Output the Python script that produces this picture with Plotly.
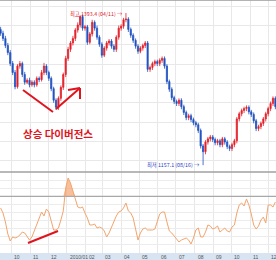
import numpy as np
import pandas as pd
import plotly.graph_objects as go

dates = pd.date_range("2009-09-13", periods=115, freq="4D")

open_ = [1368,1362,1354,1343,1332,1315,1301,1279,1311,1315,1298,1286,1289,1282,1286,1282,1292,1290,1301,1311,
         1301,1292,1276,1258,1247,1261,1278,1298,1323,1337,1347,1354,1367,1375,1388,1370,1372,1348,1361,1379,
         1370,1356,1345,1328,1339,1347,1350,1342,1337,1356,1370,1373,1383,1384,1368,1359,1351,1342,1334,1339,
         1343,1347,1306,1309,1315,1318,1315,1320,1323,1311,1287,1275,1262,1256,1253,1258,1248,1239,1231,1234,
         1228,1223,1220,1211,1187,1178,1193,1198,1201,1197,1192,1195,1189,1198,1193,1186,1183,1189,1195,1229,
         1237,1242,1245,1247,1240,1236,1226,1214,1217,1222,1229,1237,1245,1253,1261]
close = [1362,1354,1343,1332,1315,1301,1279,1311,1315,1298,1286,1289,1282,1286,1282,1292,1290,1301,1311,1301,
         1292,1276,1258,1247,1261,1278,1298,1323,1337,1347,1354,1367,1375,1388,1370,1372,1348,1361,1379,1370,
         1356,1345,1328,1339,1347,1350,1342,1337,1356,1370,1373,1383,1384,1368,1359,1351,1342,1334,1339,1343,
         1347,1306,1309,1315,1318,1315,1320,1323,1311,1287,1275,1262,1256,1253,1258,1248,1239,1231,1234,1228,
         1223,1220,1211,1187,1178,1193,1198,1201,1197,1192,1195,1189,1198,1193,1186,1183,1189,1195,1229,1237,
         1242,1245,1247,1240,1236,1226,1214,1217,1222,1229,1237,1245,1253,1261,1248]
high = [1372,1366,1358,1347,1336,1319,1305,1314,1319,1318,1302,1292,1293,1289,1289,1295,1295,1305,1316,1314,
        1304,1295,1279,1261,1264,1281,1301,1327,1341,1350,1358,1370,1379,1390,1391,1375,1375,1364,1383,1382,
        1374,1359,1348,1342,1350,1353,1353,1345,1359,1374,1376,1386,1393.4,1387,1371,1362,1354,1345,1342,1346,
        1350,1350,1312,1318,1321,1321,1323,1326,1326,1314,1290,1278,1265,1259,1261,1261,1251,1242,1237,1237,
        1231,1226,1223,1214,1190,1196,1201,1204,1204,1200,1198,1198,1201,1201,1196,1189,1192,1198,1232,1240,
        1245,1248,1250,1250,1243,1239,1229,1220,1225,1232,1240,1248,1256,1264,1264]
low = [1358,1350,1339,1328,1311,1297,1275,1276,1307,1294,1282,1283,1278,1279,1278,1279,1286,1287,1297,1297,
       1288,1272,1254,1243,1243,1257,1274,1294,1319,1333,1343,1350,1363,1371,1366,1366,1344,1345,1357,1366,
       1352,1341,1324,1325,1335,1343,1338,1333,1333,1352,1366,1369,1379,1364,1355,1347,1338,1330,1331,1335,
       1339,1302,1302,1305,1311,1311,1311,1316,1307,1283,1271,1258,1252,1249,1249,1244,1235,1227,1227,1224,
       1219,1216,1207,1183,1157.1,1174,1189,1194,1193,1188,1188,1185,1185,1189,1182,1179,1179,1185,1191,1225,
       1233,1238,1241,1236,1232,1222,1210,1210,1213,1218,1225,1233,1241,1249,1244]

rsi = [55.6,49.4,38.3,23.5,14.8,19.8,18.5,19.8,22.2,25.9,24.7,21,16,19.8,27.2,34.6,43.2,50.6,45.7,54.3,
       50.6,38.3,28.4,28.4,30.9,40.7,51.9,80.2,92.6,86.4,76.5,66.7,56.8,55.6,56.8,49.4,43.2,34.6,34.6,35.8,
       30.9,32.1,30.9,27.2,19.8,24.7,32.1,40.7,45.7,50.6,51.9,55.6,61.7,51.9,49.4,43.2,29.6,16,24.7,29.6,
       30.9,28.4,28.4,28.4,29.6,38.3,48.1,50.6,50.6,38.3,27.2,24.7,21,17.3,13.6,16,17.3,18.5,16,11.1,
       18.5,28.4,30.9,19.8,19.8,25.9,34.6,33.3,29.6,30.9,33.3,25.9,28.4,30.9,27.2,25.9,32.1,34.6,49.4,59.3,
       61.7,58,66.7,59.3,48.1,34.6,29.6,33.3,40.7,44.4,37,59.3,59.3,56.8,63]

month_starts = pd.date_range("2009-10-01", "2010-12-01", freq="MS")
month_labels = ["10","11","12","2010/01","02","03","04","05","06","07","08","09","10","11","12"]

W, H, B = 276, 260, 7
PH = H - B
def px(x): return x / W
def py(y): return 1 - y / PH

split = 81 / PH
RED = "#e0141e"

fig = go.Figure()
fig.add_trace(go.Candlestick(
    x=dates, open=open_, high=high, low=low, close=close,
    increasing=dict(line=dict(color="#e3202a", width=0.8), fillcolor="#e3202a"),
    decreasing=dict(line=dict(color="#1f50c0", width=0.8), fillcolor="#1f50c0"),
    whiskerwidth=0, xaxis="x", yaxis="y", showlegend=False, hoverinfo="skip"))

fig.add_trace(go.Scatter(x=dates, y=[70]*len(dates), mode="lines",
                         line=dict(width=0, color="rgba(0,0,0,0)"), xaxis="x", yaxis="y2",
                         showlegend=False, hoverinfo="skip"))
fig.add_trace(go.Scatter(x=dates, y=np.maximum(np.array(rsi), 70), mode="lines",
                         line=dict(width=0, color="rgba(0,0,0,0)"), fill="tonexty",
                         fillcolor="rgba(245,170,120,0.75)", xaxis="x", yaxis="y2",
                         showlegend=False, hoverinfo="skip"))
fig.add_trace(go.Scatter(x=dates, y=rsi, mode="lines", line=dict(color="#f3a46c", width=1),
                         xaxis="x", yaxis="y2", showlegend=False, hoverinfo="skip"))

def seg(x0, y0, x1, y1, w=2):
    return dict(type="line", xref="paper", yref="paper", x0=px(x0), y0=py(y0), x1=px(x1), y1=py(y1),
                line=dict(color=RED, width=w))

shapes = [
    dict(type="rect", xref="paper", yref="paper", x0=0, x1=1, y0=-B / PH, y1=0,
         fillcolor="#d8e4f2", line=dict(width=0), layer="below"),
    dict(type="line", xref="paper", yref="paper", x0=0, x1=1, y0=1, y1=1,
         line=dict(color="#9a9a9a", width=1.5)),
    dict(type="line", xref="paper", yref="paper", x0=0, x1=1, y0=split, y1=split,
         line=dict(color="#a0a0a0", width=1.5)),
    dict(type="line", xref="paper", yref="y2", x0=0, x1=1, y0=70, y1=70,
         line=dict(color="#a8a8a8", width=1.2)),
    seg(23, 90, 53, 112),
    seg(56, 109, 80, 88),
    seg(80, 88, 80, 99),
    seg(80, 88, 68, 90),
    seg(28, 243, 58, 231),
]

annotations = [
    dict(xref="paper", yref="paper", x=px(57.5), y=py(133), xanchor="center", yanchor="middle",
         text="<b>상승 다이버전스</b>", showarrow=False,
         font=dict(family="Noto Sans CJK KR", size=10.5, color=RED)),
    dict(xref="x", yref="paper", x=dates[52], y=py(8), xanchor="right", xshift=-1,
         text="최고 1393.4 (04/11) →", showarrow=False,
         font=dict(family="Noto Sans CJK KR", size=5.3, color=RED)),
    dict(xref="x", yref="paper", x=dates[84], y=py(165), xanchor="right", xshift=-1,
         text="최저 1157.1 (08/16) →", showarrow=False,
         font=dict(family="Noto Sans CJK KR", size=5.3, color="#1f40c8")),
]
for d, lab in zip(month_starts, month_labels):
    annotations.append(dict(xref="x", yref="paper", x=d, y=-3.5 / PH, xanchor="left", xshift=1,
                            yanchor="middle", text=lab, showarrow=False,
                            font=dict(family="Liberation Sans Narrow, Liberation Sans", size=5,
                                      color="#555555")))

fig.update_layout(
    width=W, height=H, margin=dict(l=0, r=0, t=0, b=B),
    paper_bgcolor="white", plot_bgcolor="white",
    xaxis=dict(range=["2009-09-12", "2010-12-14"], anchor="y2", tickvals=list(month_starts),
               showticklabels=False, showgrid=True, gridcolor="#e8e8e8", gridwidth=1,
               rangeslider=dict(visible=False), zeroline=False, ticks="", showline=False),
    yaxis=dict(domain=[split, 1], range=[1146.5, 1413.7], tick0=1404, dtick=30,
               showticklabels=False, showgrid=True, gridcolor="#e8e8e8", zeroline=False),
    yaxis2=dict(domain=[0, split], range=[0, 100], dtick=10, showticklabels=False,
                showgrid=True, gridcolor="#ececec", zeroline=False),
    shapes=shapes, annotations=annotations,
)

fig.write_html("out.html")
